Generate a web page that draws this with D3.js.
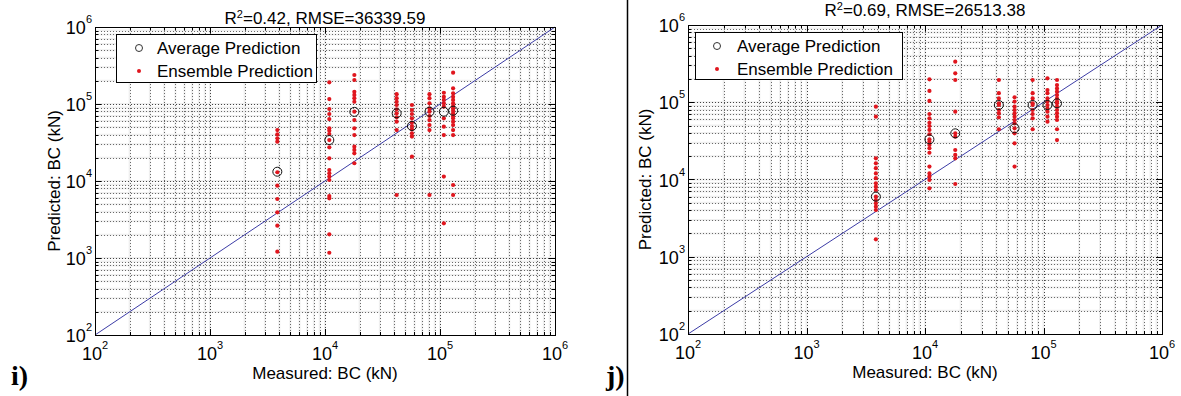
<!DOCTYPE html>
<html>
<head>
<meta charset="utf-8">
<script src="https://cdn.jsdelivr.net/npm/d3@7"></script>
<style>
  html, body { margin: 0; padding: 0; background: #fff; }
  svg { display: block; font-family: "Liberation Sans", Arial, sans-serif; }
</style>
</head>
<body>
<svg id="chart" width="1181" height="396"></svg>
<script>
// ---------- data ----------
const measuredBC = [3850, 10900, 18000, 42000, 57000, 81000, 108000, 130000];
const decadeExponents = [2, 3, 4, 5, 6];
const axisDomain = [1e2, 1e6];

const titleI = { r2: "0.42", rmse: "36339.59" };
const titleJ = { r2: "0.69", rmse: "26513.38" };

const avgPredI = [13200, 34000, 79000, 75700, 51800, 79400, 79400, 81900];
const ensI1 = [45900, 40400, 35800, 32400, 13000, 8700, 5840, 3920, 2630, 1210];
const ensI2 = [191000, 116000, 86100, 74100, 63800, 48300, 45100, 40800, 34000, 27400, 19700, 13900, 12600, 11400, 10300, 6380, 5960, 2030, 1170];
const ensI3 = [238000, 205000, 144000, 131000, 119000, 107000, 79400, 61900, 48300, 39500, 27900, 25300, 22900, 17000];
const ensI4 = [134000, 119000, 107000, 97000, 85300, 75700, 67100, 59000, 45900, 6580];
const ensI5 = [97000, 83600, 74100, 65100, 57300, 51800, 46900, 41600, 37700, 20700];
const ensI6 = [134000, 119000, 102000, 87900, 79400, 69800, 61900, 53300, 45900, 6580];
const ensI7 = [140000, 124000, 113000, 102000, 92200, 65100, 50800, 39500, 11400, 2820];
const ensI8 = [255000, 160000, 138000, 124000, 113000, 102000, 94200, 87900, 81900, 75700, 69800, 65100, 59000, 53300, 45900, 39500, 8870, 6580];

const avgPredJ = [6000, 33100, 39600, 92100, 46000, 92100, 92100, 96800];
const ensJ1 = [87700, 65000, 18800, 16200, 14000, 12000, 10400, 8940, 8080, 7310, 6000, 5430, 4920, 4450, 4030, 1680];
const ensJ2 = [198000, 140000, 104000, 70500, 61900, 54300, 49300, 43800, 38500, 33100, 30900, 28000, 25400, 22200, 14700, 12000, 10900, 9860, 7690];
const ensJ3 = [335000, 237000, 194000, 75500, 39600, 35800, 24100, 20800, 18800, 8750];
const ensJ4 = [194000, 131000, 112000, 96800, 92100, 79400, 71900, 63800, 44700];
const ensJ5 = [116000, 102000, 87700, 79400, 71900, 65000, 58900, 53300, 46000, 39600, 29400, 14700];
const ensJ6 = [194000, 131000, 112000, 96800, 92100, 79400, 70500, 61900, 44700];
const ensJ7 = [204000, 144000, 131000, 112000, 102000, 92100, 83300, 75500, 65000, 56100];
const ensJ8 = [194000, 167000, 151000, 137000, 124000, 112000, 102000, 96800, 87700, 79400, 71900, 65000, 58900, 44700, 32400];

const ensembleI = [ensI1, ensI2, ensI3, ensI4, ensI5, ensI6, ensI7, ensI8];
const ensembleJ = [ensJ1, ensJ2, ensJ3, ensJ4, ensJ5, ensJ6, ensJ7, ensJ8];

const legendLabels = ["Average Prediction", "Ensemble Prediction"];
const xLabel = "Measured: BC (kN)";
const yLabel = "Predicted: BC (kN)";

// ---------- drawing ----------
const svg = d3.select("#chart");
svg.append("rect").attr("width", 1181).attr("height", 396).attr("fill", "#fff");

const RED = "#e0161e";
const FONT = 17;

function drawPanel(p) {
  const x = d3.scaleLog().domain(axisDomain).range([p.left, p.right]);
  const y = d3.scaleLog().domain(axisDomain).range([p.bottom, p.top]);
  const g = svg.append("g");

  const minor = [];
  for (let e = 2; e < 6; e++) for (let k = 2; k <= 9; k++) minor.push(k * Math.pow(10, e));
  const major = decadeExponents.map(e => Math.pow(10, e)).filter(v => v > 1e2 && v < 1e6);
  const gridVals = minor.concat(major);

  const grid = g.append("g");
  gridVals.forEach(v => {
    grid.append("line").attr("x1", x(v)).attr("x2", x(v)).attr("y1", p.top).attr("y2", p.bottom)
      .attr("stroke", "#efefef").attr("stroke-width", 2);
    grid.append("line").attr("y1", y(v)).attr("y2", y(v)).attr("x1", p.left).attr("x2", p.right)
      .attr("stroke", "#efefef").attr("stroke-width", 2);
  });
  gridVals.forEach(v => {
    const isMaj = major.includes(v);
    const col = isMaj ? "#444" : "#6a6a6a";
    grid.append("line").attr("x1", Math.round(x(v)) + 0.5).attr("x2", Math.round(x(v)) + 0.5)
      .attr("y1", p.top).attr("y2", p.bottom)
      .attr("stroke", col).attr("stroke-width", 1).attr("stroke-dasharray", "1,2");
    grid.append("line").attr("y1", Math.round(y(v)) + 0.5).attr("y2", Math.round(y(v)) + 0.5)
      .attr("x1", p.left).attr("x2", p.right)
      .attr("stroke", col).attr("stroke-width", 1).attr("stroke-dasharray", "1,2");
  });

  const ticks = g.append("g").attr("stroke", "#000").attr("stroke-width", 1);
  const allTicks = minor.map(v => [v, 3]).concat(decadeExponents.map(e => [Math.pow(10, e), 6]));
  allTicks.forEach(([v, len]) => {
    const xv = Math.round(x(v)) + 0.5, yv = Math.round(y(v)) + 0.5;
    ticks.append("line").attr("x1", xv).attr("x2", xv).attr("y1", p.bottom).attr("y2", p.bottom - len);
    ticks.append("line").attr("x1", xv).attr("x2", xv).attr("y1", p.top).attr("y2", p.top + len);
    ticks.append("line").attr("y1", yv).attr("y2", yv).attr("x1", p.left).attr("x2", p.left + len);
    ticks.append("line").attr("y1", yv).attr("y2", yv).attr("x1", p.right).attr("x2", p.right - len);
  });

  g.append("line")
    .attr("x1", x(axisDomain[0])).attr("y1", y(axisDomain[0]))
    .attr("x2", x(axisDomain[1])).attr("y2", y(axisDomain[1]))
    .attr("stroke", "#3c3ca6").attr("stroke-width", 1);

  const dots = g.append("g");
  p.ensemble.forEach((col, i) => {
    dots.selectAll(null).data(col).enter().append("circle")
      .attr("cx", x(measuredBC[i])).attr("cy", d => y(d)).attr("r", 2.1)
      .attr("fill", RED);
  });
  g.append("g").selectAll("circle").data(p.avg).enter().append("circle")
    .attr("cx", (d, i) => x(measuredBC[i])).attr("cy", d => y(d)).attr("r", 4.5)
    .attr("fill", "none").attr("stroke", "#111").attr("stroke-width", 1);

  g.append("rect").attr("x", p.left + 0.5).attr("y", p.top + 0.5)
    .attr("width", p.right - p.left).attr("height", p.bottom - p.top)
    .attr("fill", "none").attr("stroke", "#000").attr("stroke-width", 1);

  decadeExponents.forEach(e => {
    const v = Math.pow(10, e);
    const tx = g.append("text").attr("x", x(v)).attr("y", p.bottom + 25)
      .attr("text-anchor", "middle").attr("font-size", 18).attr("fill", "#000");
    tx.append("tspan").text("10");
    tx.append("tspan").attr("dy", -11).attr("font-size", 11).text(e);
    const ty = g.append("text").attr("x", p.left - 3).attr("y", y(v) + 7)
      .attr("text-anchor", "end").attr("font-size", 18).attr("fill", "#000");
    ty.append("tspan").text("10");
    ty.append("tspan").attr("dy", -11).attr("font-size", 11).text(e);
  });

  g.append("text").attr("x", (p.left + p.right) / 2).attr("y", p.bottom + 44)
    .attr("text-anchor", "middle").attr("font-size", FONT).text(xLabel);
  g.append("text").attr("transform", `translate(${p.yLabelX},${(p.top + p.bottom) / 2}) rotate(-90)`)
    .attr("text-anchor", "middle").attr("font-size", FONT).text(yLabel);

  const t = g.append("text").attr("x", (p.left + p.right) / 2).attr("y", p.titleY)
    .attr("text-anchor", "middle").attr("font-size", FONT);
  t.append("tspan").text("R");
  t.append("tspan").attr("dy", -6).attr("font-size", 11).text("2");
  t.append("tspan").attr("dy", 6).text(`=${p.title.r2}, RMSE=${p.title.rmse}`);

  const L = p.legend;
  const lg = g.append("g");
  lg.append("rect").attr("x", L.x + 0.5).attr("y", L.y + 0.5).attr("width", L.w).attr("height", L.h)
    .attr("fill", "#fff").attr("stroke", "#000").attr("stroke-width", 1);
  lg.append("circle").attr("cx", L.mx).attr("cy", L.y + 14).attr("r", 3.5)
    .attr("fill", "none").attr("stroke", "#333");
  lg.append("circle").attr("cx", L.mx).attr("cy", L.y + 37).attr("r", 2)
    .attr("fill", RED);
  lg.append("text").attr("x", L.tx).attr("y", L.y + 20).attr("font-size", FONT).text(legendLabels[0]);
  lg.append("text").attr("x", L.tx).attr("y", L.y + 43).attr("font-size", FONT).text(legendLabels[1]);

  svg.append("text").attr("x", p.letterX).attr("y", 385)
    .attr("font-family", "'Liberation Serif', 'Times New Roman', serif")
    .attr("font-weight", "bold").attr("font-size", 28).text(p.letter);
}

drawPanel({
  left: 95, right: 555, top: 27, bottom: 335,
  ensemble: ensembleI, avg: avgPredI, title: titleI, titleY: 24,
  yLabelX: 60, letter: "i)", letterX: 11,
  legend: { x: 116, y: 34, w: 200, h: 48, mx: 139, tx: 157 }
});

drawPanel({
  left: 688, right: 1162, top: 25, bottom: 334,
  ensemble: ensembleJ, avg: avgPredJ, title: titleJ, titleY: 16,
  yLabelX: 651, letter: "j)", letterX: 606,
  legend: { x: 695, y: 32, w: 207, h: 47, mx: 717, tx: 737 }
});

svg.append("line").attr("x1", 627.5).attr("x2", 627.5).attr("y1", 0).attr("y2", 396)
  .attr("stroke", "#000").attr("stroke-width", 1.5);
</script>
</body>
</html>
